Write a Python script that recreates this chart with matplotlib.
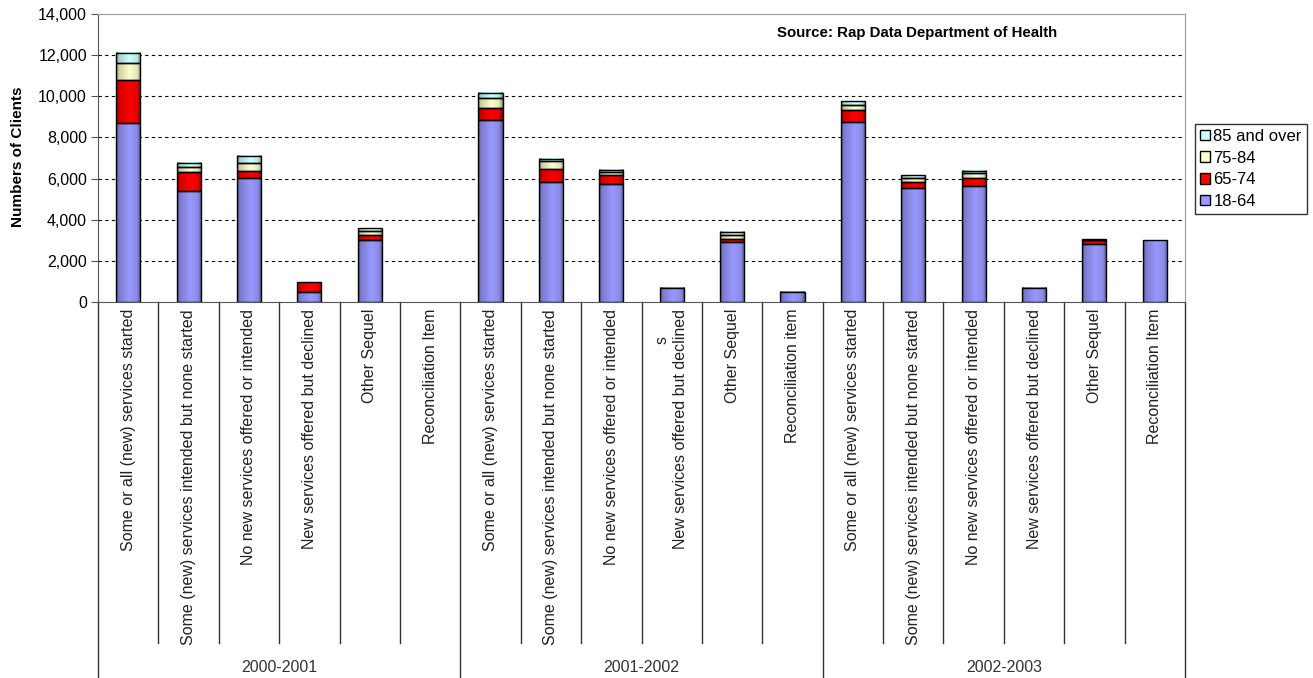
import numpy as np
import matplotlib
matplotlib.use("Agg")
import matplotlib.pyplot as plt
from matplotlib.patches import Patch
from matplotlib.ticker import FuncFormatter
import matplotlib.transforms as mtransforms

plt.rcParams['font.family'] = ['Liberation Sans', 'DejaVu Sans']

# categories
groups = ['2000-2001', '2001-2002', '2002-2003']
cats = [
    ['Some or all (new) services started',
     'Some (new) services intended but none started',
     'No new services offered or intended',
     'New services offered but declined',
     'Other Sequel',
     'Reconciliation Item'],
    ['Some or all (new) services started',
     'Some (new) services intended but none started',
     'No new services offered or intended',
     's      \nNew services offered but declined',
     'Other Sequel',
     'Reconciliation item'],
    ['Some or all (new) services started',
     'Some (new) services intended but none started',
     'No new services offered or intended',
     'New services offered but declined',
     'Other Sequel',
     'Reconciliation Item'],
]

# series values (stacked, bottom to top)
age_18_64 = [8700, 5400, 6050, 500, 3000, 0,
             8850, 5850, 5750, 700, 2900, 500,
             8750, 5550, 5650, 700, 2800, 3000]
age_65_74 = [2100, 900, 300, 470, 280, 0,
             600, 600, 430, 0, 180, 0,
             600, 300, 400, 0, 200, 0]
age_75_84 = [800, 250, 400, 0, 180, 0,
             450, 380, 160, 0, 180, 0,
             250, 200, 200, 0, 30, 0]
age_85_plus = [500, 200, 350, 0, 120, 0,
               250, 100, 100, 0, 150, 0,
               150, 100, 100, 0, 20, 0]

series = [('18-64', age_18_64, '#9999FF'),
          ('65-74', age_65_74, '#FF0000'),
          ('75-84', age_75_84, '#FFFFCC'),
          ('85 and over', age_85_plus, '#CCFFFF')]

W, H = 1313, 678
fig = plt.figure(figsize=(W / 100, H / 100), dpi=100)
ax = fig.add_axes([98 / W, 1 - 302 / H, (1185 - 98) / W, (302 - 14) / H])


def shade(color, n=64):
    # horizontal gradient like the old Excel cylinder-ish fill
    rgb = np.array(matplotlib.colors.to_rgb(color))
    t = np.linspace(0, 1, n)
    f = np.interp(t, [0, 0.1, 0.55, 0.85, 1], [0.45, 0.8, 1.0, 0.9, 0.55])
    return (rgb[None, :] * f[:, None])[None, :, :]


n = len(age_18_64)
x = np.arange(n)
bottom = np.zeros(n)
for name, vals, col in series:
    vals = np.array(vals, dtype=float)
    bars = ax.bar(x, vals, 0.4, bottom=bottom, facecolor='none',
                  edgecolor='black', linewidth=1, zorder=3)
    for r, v in zip(bars, vals):
        if v <= 0:
            r.set_visible(False)
            continue
        ax.imshow(shade(col), extent=[r.get_x(), r.get_x() + r.get_width(),
                                      r.get_y(), r.get_y() + r.get_height()],
                  aspect='auto', interpolation='bilinear', zorder=2)
    bottom += vals

ax.set_xlim(-0.5, n - 0.5)
ax.set_ylim(0, 14000)
ax.set_yticks(np.arange(0, 14001, 2000))
ax.yaxis.set_major_formatter(FuncFormatter(lambda v, p: f'{int(v):,}'))
ax.tick_params(axis='y', labelsize=11.5, length=5, direction='out',
               color='#555555', pad=3)
for yv in range(2000, 13000, 2000):
    ax.axhline(yv, color='black', linestyle=(0, (3, 3)), linewidth=0.8, zorder=1)

ax.spines['top'].set_color('#999999')
ax.spines['right'].set_color('#999999')
ax.spines['left'].set_color('#555555')
ax.spines['bottom'].set_color('#555555')

# category labels and separators
ax.set_xticks([])
flat = [c for g in cats for c in g]
trans = mtransforms.blended_transform_factory(ax.transData, fig.transFigure)
for i, lab in enumerate(flat):
    ax.text(i, 1 - 309 / H, lab, rotation=90, ha='center', va='top',
            fontsize=11.5, color='#222222', transform=trans,
            multialignment='right')
for k in range(n + 1):
    xb = k - 0.5
    low = 0.0 if k % 6 == 0 else 1 - 643 / H
    ax.plot([xb, xb], [1 - 302 / H, low], color='#333333', linewidth=1,
            transform=trans, clip_on=False)
for gi, g in enumerate(groups):
    ax.text(gi * 6 + 2.5, 1 - 667 / H, g, ha='center', va='center',
            fontsize=11.5, color='#333333', transform=trans)

ax.set_ylabel('Numbers of Clients', fontsize=11, fontweight='bold')
ax.yaxis.set_label_coords((25 - 98) / (1185 - 98), 1 - (157 - 14) / (302 - 14))

fig.text(777 / W, 1 - 33 / H, 'Source: Rap Data Department of Health',
         fontsize=10.8, fontweight='bold', ha='left', va='center')

handles = [Patch(facecolor=c, edgecolor='black', label=nm)
           for nm, v, c in series[::-1]]
fig.legend(handles=handles, loc='upper left',
           bbox_to_anchor=(1195 / W, 1 - 124 / H), borderaxespad=0,
           fontsize=12, frameon=True, fancybox=False, edgecolor='black',
           handlelength=0.6, handleheight=0.6, handletextpad=0.2,
           labelspacing=0.4, borderpad=0.3)

fig.savefig('out.png', dpi=100)
